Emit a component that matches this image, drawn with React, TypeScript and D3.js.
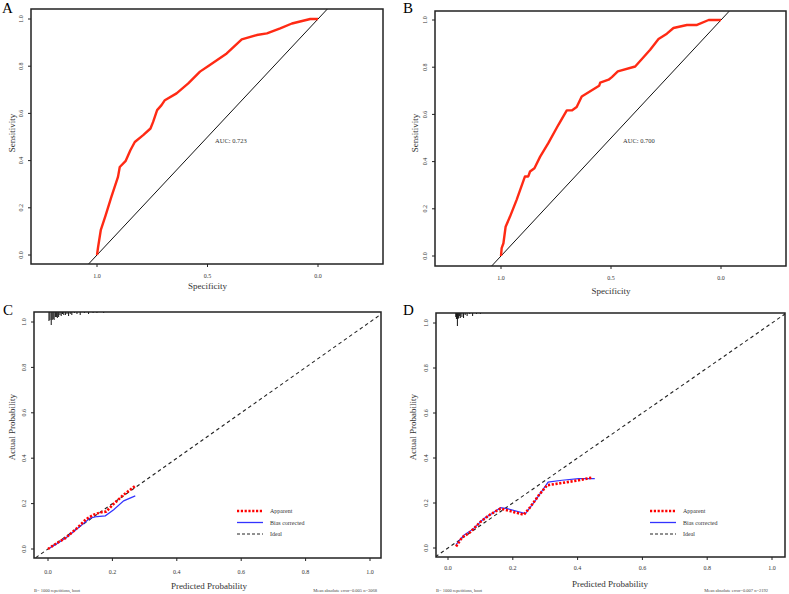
import React from "react";
import * as d3 from "d3";

// ROC curves (specificity, sensitivity)
const rocASpec = [1, 0.995, 0.983, 0.961, 0.935, 0.905, 0.897, 0.87, 0.849, 0.829, 0.791, 0.758, 0.746, 0.728, 0.708, 0.693, 0.64, 0.587, 0.534, 0.496, 0.413, 0.345, 0.277, 0.231, 0.171, 0.118, 0.035, 0];
const rocASens = [0, 0.034, 0.105, 0.168, 0.246, 0.331, 0.373, 0.399, 0.444, 0.479, 0.508, 0.536, 0.564, 0.614, 0.635, 0.656, 0.685, 0.727, 0.777, 0.801, 0.854, 0.914, 0.932, 0.939, 0.96, 0.981, 1, 1];
const rocBSpec = [1, 0.997, 0.989, 0.979, 0.959, 0.929, 0.891, 0.876, 0.868, 0.848, 0.822, 0.785, 0.739, 0.701, 0.678, 0.656, 0.633, 0.554, 0.549, 0.511, 0.496, 0.469, 0.39, 0.322, 0.284, 0.246, 0.216, 0.155, 0.109, 0.056, 0];
const rocBSens = [0, 0.033, 0.054, 0.124, 0.167, 0.238, 0.337, 0.337, 0.358, 0.372, 0.421, 0.478, 0.556, 0.617, 0.617, 0.631, 0.676, 0.721, 0.735, 0.747, 0.758, 0.782, 0.803, 0.874, 0.919, 0.942, 0.966, 0.979, 0.979, 1, 1];
const aucA = "AUC: 0.723";
const aucB = "AUC: 0.700";

// calibration curves (predicted, actual)
const calCApparentX = [0, 0.023, 0.054, 0.09, 0.119, 0.142, 0.162, 0.181, 0.204, 0.235, 0.271];
const calCApparentY = [0, 0.022, 0.048, 0.092, 0.132, 0.151, 0.161, 0.165, 0.199, 0.239, 0.278];
const calCBiasX = [0.005, 0.023, 0.059, 0.1, 0.131, 0.152, 0.178, 0.204, 0.235, 0.271];
const calCBiasY = [0.004, 0.019, 0.053, 0.1, 0.136, 0.143, 0.146, 0.173, 0.212, 0.234];
const calDApparentX = [0.025, 0.043, 0.069, 0.1, 0.131, 0.162, 0.192, 0.234, 0.254, 0.28, 0.306, 0.352, 0.403, 0.444];
const calDApparentY = [0.007, 0.046, 0.071, 0.116, 0.15, 0.175, 0.164, 0.148, 0.182, 0.234, 0.279, 0.289, 0.301, 0.313];
const calDBiasX = [0.025, 0.048, 0.079, 0.11, 0.136, 0.162, 0.182, 0.239, 0.27, 0.309, 0.352, 0.403, 0.453];
const calDBiasY = [0.015, 0.056, 0.086, 0.13, 0.153, 0.179, 0.175, 0.153, 0.212, 0.293, 0.301, 0.308, 0.308];

// distribution of predictions (rug at top)
const rugCPos = [0.003, 0.006, 0.01, 0.013, 0.016, 0.019, 0.023, 0.026, 0.029, 0.033, 0.037, 0.041, 0.045, 0.049, 0.054, 0.059, 0.064, 0.069, 0.074, 0.082, 0.09, 0.1, 0.113, 0.126, 0.14, 0.152, 0.173];
const rugCCount = [9, 8, 13, 8, 7, 8, 5, 5, 6, 5, 3, 4, 2, 3, 3, 2, 4, 2, 3, 1, 2, 3, 1, 2, 1, 1, 1];
const rugDPos = [0.024, 0.026, 0.029, 0.031, 0.033, 0.036, 0.038, 0.043, 0.048, 0.053, 0.059, 0.067, 0.076, 0.088, 0.1];
const rugDCount = [4, 6, 13, 6, 5, 3, 5, 4, 5, 2, 3, 1, 3, 1, 1];

const rocTicks = [1.0, 0.5, 0.0];
const probTicks = [0, 0.2, 0.4, 0.6, 0.8, 1.0];
const legendLabels = ["Apparent", "Bias  corrected", "Ideal"];
const footLeftC = "B= 1000 repetitions, boot";
const footRightC = "Mean absolute error=0.005 n=3068";
const footLeftD = "B= 1000 repetitions, boot";
const footRightD = "Mean absolute error=0.007 n=2192";

const FONT = "'Liberation Serif', 'DejaVu Serif', serif";

type Box = { x0: number; x1: number; y0: number; y1: number };

interface RocProps {
  id: string;
  letter: string;
  box: Box;
  xr: [number, number];
  yr: [number, number];
  spec: number[];
  sens: number[];
  auc: string;
  aucX: number;
  aucY: number;
  lab: { lx: number; ly: number; tx: number; ty: number; tickX: number; tickY: number; letterX: number };
}

const RocPanel: React.FC<RocProps> = ({ id, letter, box, xr, yr, spec, sens, auc, aucX, aucY, lab }) => {
  const x = d3.scaleLinear().domain([1, 0]).range(xr);
  const y = d3.scaleLinear().domain([0, 1]).range(yr);
  const pts = spec.map((s, i) => [s, sens[i]] as [number, number]);
  const line = d3.line<[number, number]>().x((d) => x(d[0])).y((d) => y(d[1]));
  return (
    <g fontFamily={FONT}>
      <defs>
        <clipPath id={id}>
          <rect x={box.x0} y={box.y0} width={box.x1 - box.x0} height={box.y1 - box.y0} />
        </clipPath>
      </defs>
      <text x={lab.letterX} y={13} fontSize={15}>{letter}</text>
      <g clipPath={`url(#${id})`}>
        <line x1={x(1.5)} y1={y(-0.5)} x2={x(-0.5)} y2={y(1.5)} stroke="#111" strokeWidth={1} />
        <path d={line(pts) || ""} fill="none" stroke="#ff2a14" strokeWidth={2.4} strokeLinejoin="round" />
      </g>
      <rect x={box.x0} y={box.y0} width={box.x1 - box.x0} height={box.y1 - box.y0} fill="none" stroke="#222" strokeWidth={1.5} />
      <text x={aucX} y={aucY} fontSize={6.5} fill="#333">{auc}</text>
      {rocTicks.map((t) => (
        <g key={"x" + t}>
          <line x1={x(t)} x2={x(t)} y1={box.y1} y2={box.y1 + 3} stroke="#222" />
          <text x={x(t)} y={lab.tickY} fontSize={6} textAnchor="middle" fill="#333">{t.toFixed(1)}</text>
        </g>
      ))}
      {[0, 0.2, 0.4, 0.6, 0.8, 1.0].map((t) => (
        <g key={"y" + t}>
          <line x1={box.x0 - 3} x2={box.x0} y1={y(t)} y2={y(t)} stroke="#222" />
          <text transform={`translate(${lab.tickX},${y(t)}) rotate(-90)`} fontSize={6} textAnchor="middle" dy="0.35em" fill="#333">{t.toFixed(1)}</text>
        </g>
      ))}
      <text x={(x(1) + x(0)) / 2} y={lab.ty} fontSize={9} textAnchor="middle" fill="#333">Specificity</text>
      <text transform={`translate(${lab.lx},${lab.ly}) rotate(-90)`} fontSize={9} textAnchor="middle" dy="0.35em" fill="#333">Sensitivity</text>
    </g>
  );
};

interface CalProps {
  id: string;
  letter: string;
  box: Box;
  xr: [number, number];
  yr: [number, number];
  appX: number[];
  appY: number[];
  biasX: number[];
  biasY: number[];
  rugPos: number[];
  rugCount: number[];
  legX: number;
  legY: number;
  footL: string;
  footR: string;
  footRX: number;
  lab: { ly: number; lx: number; ty: number; tickX: number; tickY: number; letterX: number };
}

const CalPanel: React.FC<CalProps> = (p) => {
  const { id, letter, box, lab } = p;
  const x = d3.scaleLinear().domain([0, 1]).range(p.xr);
  const y = d3.scaleLinear().domain([0, 1]).range(p.yr);
  const line = d3.line<[number, number]>().x((d) => x(d[0])).y((d) => y(d[1]));
  const app = p.appX.map((v, i) => [v, p.appY[i]] as [number, number]);
  const bias = p.biasX.map((v, i) => [v, p.biasY[i]] as [number, number]);
  const maxCount = d3.max(p.rugCount) || 1;
  const rugLen = d3.scaleLinear().domain([0, maxCount]).range([0, 13]);
  const legend = [
    { stroke: "#ff0000", w: 2.6, dash: "2.2,1.6" },
    { stroke: "#3333ff", w: 1.3, dash: "" },
    { stroke: "#222", w: 1, dash: "3,2" },
  ];
  return (
    <g fontFamily={FONT}>
      <defs>
        <clipPath id={id}>
          <rect x={box.x0} y={box.y0} width={box.x1 - box.x0} height={box.y1 - box.y0} />
        </clipPath>
      </defs>
      <text x={lab.letterX} y={315} fontSize={15}>{letter}</text>
      <g clipPath={`url(#${id})`}>
        <line x1={x(-0.5)} y1={y(-0.5)} x2={x(1.5)} y2={y(1.5)} stroke="#222" strokeWidth={1.1} strokeDasharray="3.5,3" />
        <path d={line(bias) || ""} fill="none" stroke="#3333ff" strokeWidth={1.2} />
        <path d={line(app) || ""} fill="none" stroke="#ff0000" strokeWidth={2.6} strokeDasharray="2.2,1.6" />
        {p.rugPos.map((v, i) => (
          <line key={i} x1={x(v)} x2={x(v)} y1={box.y0} y2={box.y0 + rugLen(p.rugCount[i])} stroke="#111" strokeWidth={1} />
        ))}
      </g>
      <rect x={box.x0} y={box.y0} width={box.x1 - box.x0} height={box.y1 - box.y0} fill="none" stroke="#222" strokeWidth={1.5} />
      {probTicks.map((t) => (
        <g key={"x" + t}>
          <line x1={x(t)} x2={x(t)} y1={box.y1} y2={box.y1 + 3} stroke="#222" />
          <text x={x(t)} y={lab.tickY} fontSize={6} textAnchor="middle" fill="#333">{t.toFixed(1)}</text>
        </g>
      ))}
      {probTicks.map((t) => (
        <g key={"y" + t}>
          <line x1={box.x0 - 3} x2={box.x0} y1={y(t)} y2={y(t)} stroke="#222" />
          <text transform={`translate(${lab.tickX},${y(t)}) rotate(-90)`} fontSize={6} textAnchor="middle" dy="0.35em" fill="#333">{t.toFixed(1)}</text>
        </g>
      ))}
      {legendLabels.map((l, i) => (
        <g key={l}>
          <line x1={p.legX} x2={p.legX + 26} y1={p.legY + i * 11.5} y2={p.legY + i * 11.5} stroke={legend[i].stroke} strokeWidth={legend[i].w} strokeDasharray={legend[i].dash} />
          <text x={p.legX + 33} y={p.legY + i * 11.5} dy="0.35em" fontSize={6} fill="#333">{l}</text>
        </g>
      ))}
      <text x={(x(0) + x(1)) / 2} y={lab.ty} fontSize={9} textAnchor="middle" fill="#333">Predicted Probability</text>
      <text transform={`translate(${lab.lx},${lab.ly}) rotate(-90)`} fontSize={9} textAnchor="middle" dy="0.35em" fill="#333">Actual Probability</text>
      <text x={box.x0} y={592} fontSize={4.5} fill="#444">{p.footL}</text>
      <text x={p.footRX} y={592} fontSize={4.5} textAnchor="end" fill="#444">{p.footR}</text>
    </g>
  );
};

export default function App() {
  return (
    <svg width={789} height={594} style={{ position: "absolute", left: 0, top: 0, background: "#fff" }}>
      <rect width={789} height={594} fill="#fff" />
      <RocPanel
        id="clipA" letter="A"
        box={{ x0: 31, x1: 383, y0: 9, y1: 264 }}
        xr={[97, 318]} yr={[255, 19]}
        spec={rocASpec} sens={rocASens}
        auc={aucA} aucX={215} aucY={143}
        lab={{ lx: 12, ly: 133, tx: 208, ty: 289, tickX: 21, tickY: 278, letterX: 2 }}
      />
      <RocPanel
        id="clipB" letter="B"
        box={{ x0: 435, x1: 786, y0: 11, y1: 266 }}
        xr={[501, 721]} yr={[256, 20]}
        spec={rocBSpec} sens={rocBSens}
        auc={aucB} aucX={623} aucY={143}
        lab={{ lx: 415, ly: 133, tx: 615, ty: 294, tickX: 425, tickY: 280, letterX: 403 }}
      />
      <CalPanel
        id="clipC" letter="C"
        box={{ x0: 34, x1: 381, y0: 312, y1: 558 }}
        xr={[48, 370]} yr={[549, 322]}
        appX={calCApparentX} appY={calCApparentY}
        biasX={calCBiasX} biasY={calCBiasY}
        rugPos={rugCPos} rugCount={rugCCount}
        legX={237} legY={511}
        footL={footLeftC} footR={footRightC} footRX={377}
        lab={{ lx: 12, ly: 427, ty: 589, tickX: 24, tickY: 574, letterX: 3 }}
      />
      <CalPanel
        id="clipD" letter="D"
        box={{ x0: 436, x1: 785, y0: 313, y1: 557 }}
        xr={[448, 772]} yr={[548, 323]}
        appX={calDApparentX} appY={calDApparentY}
        biasX={calDBiasX} biasY={calDBiasY}
        rugPos={rugDPos} rugCount={rugDCount}
        legX={650} legY={511}
        footL={footLeftD} footR={footRightD} footRX={768}
        lab={{ lx: 413, ly: 427, ty: 587, tickX: 426, tickY: 570, letterX: 403 }}
      />
    </svg>
  );
}
